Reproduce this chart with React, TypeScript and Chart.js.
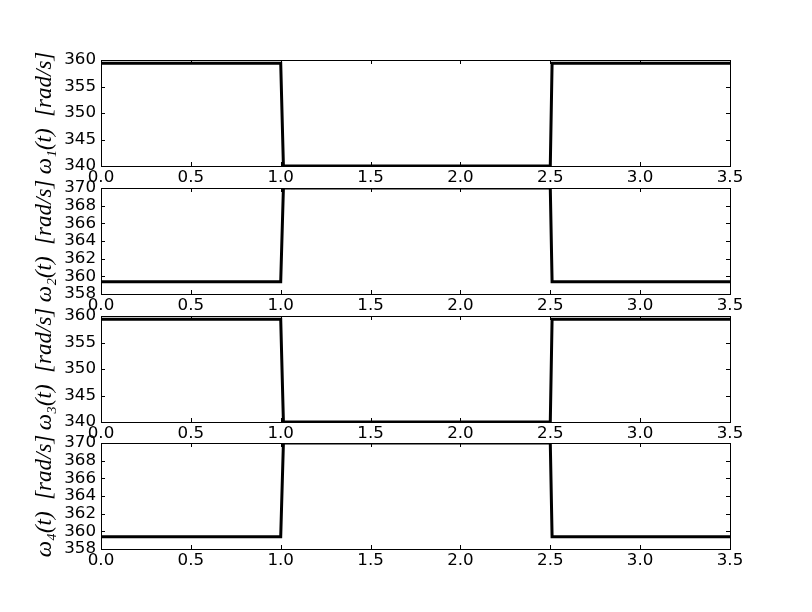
import React, { useEffect, useRef } from "react";
import { Chart, registerables } from "chart.js";

Chart.register(...registerables);

// ---- data ----
const timeS = [0, 1.0, 1.015, 2.5, 2.51, 3.5];
const omega1 = [359.4, 359.4, 340, 340, 359.4, 359.4];
const omega2 = [359.4, 359.4, 370, 370, 359.4, 359.4];
const omega3 = [359.4, 359.4, 340, 340, 359.4, 359.4];
const omega4 = [359.4, 359.4, 370, 370, 359.4, 359.4];
const xMin = 0;
const xMax = 3.5;
const xStep = 0.5;
const yMins = [340, 358, 340, 358];
const yMaxs = [360, 370, 360, 370];
const ySteps = [5, 2, 5, 2];
const yLabels = ["ω₁(t)  [rad/s]", "ω₂(t)  [rad/s]", "ω₃(t)  [rad/s]", "ω₄(t)  [rad/s]"];
const series = [omega1, omega2, omega3, omega4];

// ---- layout ----
const W = 812;
const H = 612;
const LEFT = 101;
const RIGHT = 730;
const TOPS = [60, 188, 316, 443];
const BOTTOMS = [166, 294, 422, 549];
const X_AXIS_H = 30;
const LABEL_X = 45;
const TICK_LEN = 4;

function Panel({ idx }: { idx: number }) {
  const ref = useRef<HTMLCanvasElement>(null);
  useEffect(() => {
    const values = series[idx];
    const framePlugin = {
      id: "frame" + idx,
      afterDatasetsDraw(chart: any) {
        const { ctx, chartArea: ca, scales } = chart;
        ctx.save();
        ctx.strokeStyle = "#000";
        ctx.lineWidth = 1;
        ctx.beginPath();
        for (const t of scales.x.ticks) {
          const px = Math.round(scales.x.getPixelForValue(t.value)) + 0.5;
          ctx.moveTo(px, ca.bottom);
          ctx.lineTo(px, ca.bottom - TICK_LEN);
          ctx.moveTo(px, ca.top);
          ctx.lineTo(px, ca.top + TICK_LEN);
        }
        for (const t of scales.y.ticks) {
          const py = Math.round(scales.y.getPixelForValue(t.value)) + 0.5;
          ctx.moveTo(ca.left, py);
          ctx.lineTo(ca.left + TICK_LEN, py);
          ctx.moveTo(ca.right, py);
          ctx.lineTo(ca.right - TICK_LEN, py);
        }
        ctx.stroke();
        ctx.strokeRect(ca.left + 0.5, ca.top + 0.5, ca.right - ca.left, ca.bottom - ca.top);
        // y-axis label
        ctx.translate(LABEL_X, (ca.top + ca.bottom) / 2);
        ctx.rotate(-Math.PI / 2);
        ctx.fillStyle = "#000";
        ctx.font = "italic 23px 'Liberation Serif', 'DejaVu Serif', serif";
        ctx.textAlign = "center";
        ctx.textBaseline = "middle";
        ctx.fillText(yLabels[idx], 0, 0);
        ctx.restore();
      },
    };
    const tickFont = { family: "'DejaVu Sans', sans-serif", size: 16.7 };
    const chart = new Chart(ref.current as HTMLCanvasElement, {
      type: "line",
      data: {
        datasets: [
          {
            data: timeS.map((t, i) => ({ x: t, y: values[i] })),
            borderColor: "#000",
            borderWidth: 3,
            pointRadius: 0,
            tension: 0,
            fill: false,
          },
        ],
      },
      options: {
        responsive: false,
        animation: false,
        layout: {
          padding: {
            left: 0,
            right: W - RIGHT,
            top: TOPS[idx],
            bottom: H - BOTTOMS[idx] - X_AXIS_H,
          },
        },
        plugins: { legend: { display: false }, tooltip: { enabled: false } },
        scales: {
          x: {
            type: "linear",
            min: xMin,
            max: xMax,
            ticks: {
              stepSize: xStep,
              callback: (v: any) => Number(v).toFixed(1),
              color: "#000",
              font: tickFont,
              padding: 2,
              maxRotation: 0,
              autoSkip: false,
            },
            grid: { display: false, drawTicks: false },
            border: { display: false },
            afterFit: (s: any) => {
              s.height = X_AXIS_H;
            },
          },
          y: {
            type: "linear",
            min: yMins[idx],
            max: yMaxs[idx],
            ticks: {
              stepSize: ySteps[idx],
              color: "#000",
              font: tickFont,
              padding: 5,
              autoSkip: false,
            },
            grid: { display: false, drawTicks: false },
            border: { display: false },
            afterFit: (s: any) => {
              s.width = LEFT;
            },
          },
        },
      } as any,
      plugins: [framePlugin],
    });
    return () => chart.destroy();
  }, [idx]);
  return (
    <canvas
      ref={ref}
      width={W}
      height={H}
      style={{ position: "absolute", left: 0, top: 0, pointerEvents: "none" }}
    />
  );
}

export default function App() {
  return (
    <div style={{ position: "absolute", left: 0, top: 0, width: W, height: H, background: "#fff" }}>
      {[0, 1, 2, 3].map((i) => (
        <Panel key={i} idx={i} />
      ))}
    </div>
  );
}
